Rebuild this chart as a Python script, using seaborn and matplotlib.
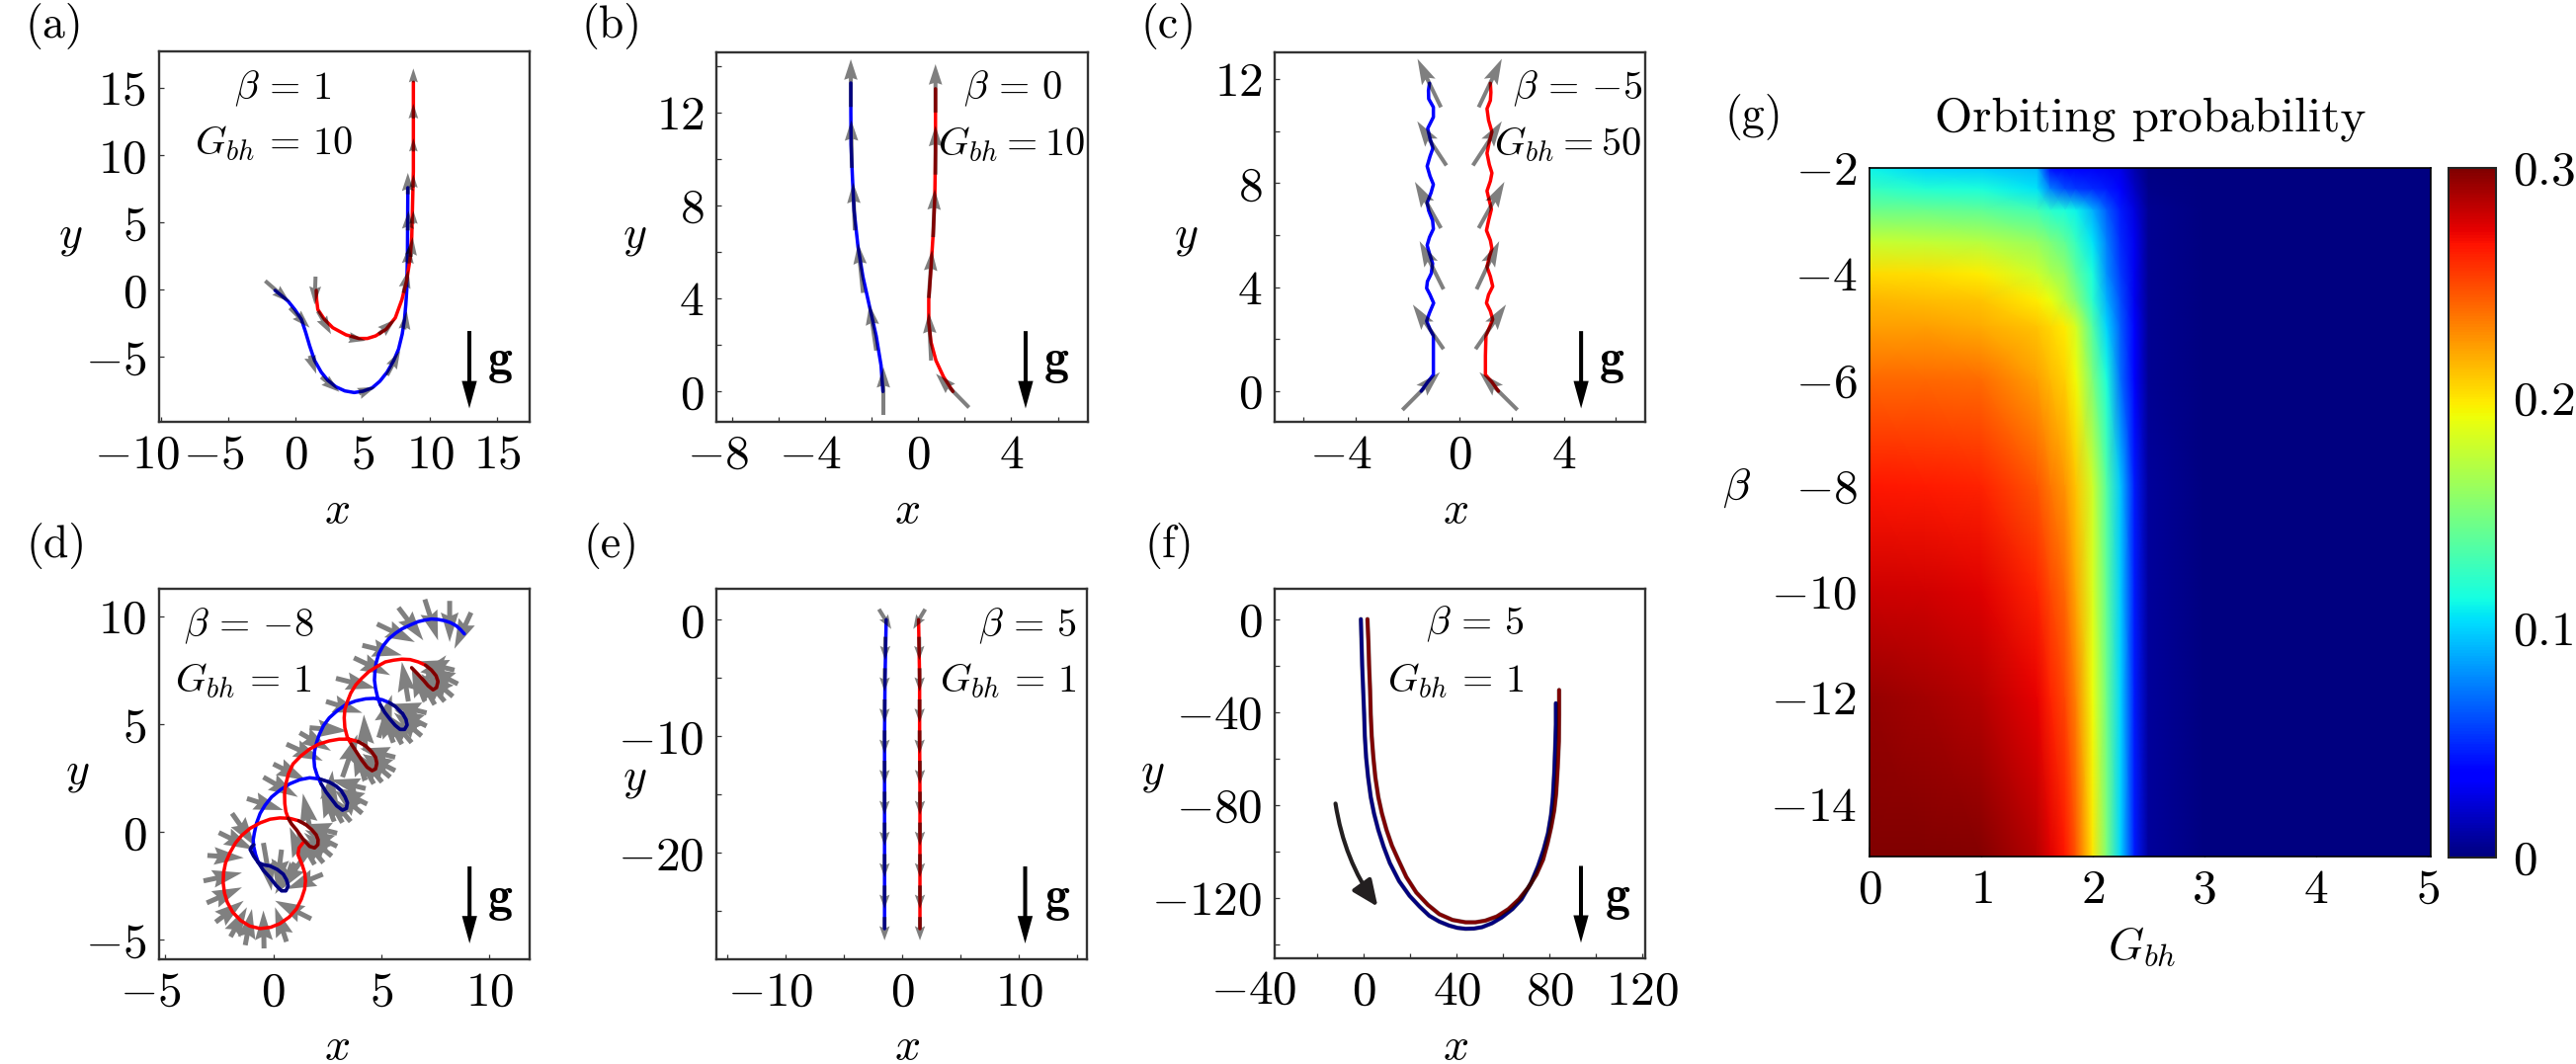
import matplotlib
matplotlib.use("Agg")
import matplotlib.pyplot as plt
import numpy as np
import seaborn as sns
from matplotlib.patches import FancyArrowPatch
from matplotlib.transforms import ScaledTranslation

# ---- panel (a)
a_blue_x = [-1.52,-1.03,-0.54,-0.05,0.44,0.76,1.05,1.42,1.91,2.40,3.01,3.67,4.36,5.02,5.70,6.27,6.81,7.30,7.66,7.93,8.10,8.20,8.27,8.32,8.35]
a_blue_y = [-0.05,-0.44,-0.86,-1.47,-2.20,-3.18,-4.16,-5.26,-6.12,-6.73,-7.22,-7.52,-7.64,-7.54,-7.29,-6.80,-6.12,-5.26,-4.41,-3.30,-2.20,-1.10,0.0,2.69,7.59]
a_red_x = [1.54,1.57,1.66,2.15,2.77,3.75,4.72,5.34,5.95,6.73,7.42,7.91,8.27,8.52,8.64,8.76,8.76]
a_red_y = [-0.05,-0.73,-1.47,-2.20,-2.82,-3.35,-3.62,-3.62,-3.43,-2.94,-2.08,-0.73,0.73,2.33,3.92,8.81,15.42]
a_tail_x = [-2.25,-0.42,1.05,1.91,4.72,6.81,8.10,8.35,8.35,8.35, 1.49,1.66,3.99,6.19,8.03,8.57,8.76,8.76,8.76,8.76,8.76]
a_tail_y = [0.66,-1.35,-4.90,-6.49,-7.71,-6.36,-2.94,1.96,4.41,7.10, 0.98,-1.59,-3.55,-3.30,-0.24,2.45,4.90,7.59,10.28,12.73,15.42]
a_tip_x = [-0.42,1.05,1.54,3.26,5.95,7.78,8.27,8.45,8.40,8.35, 1.42,2.64,5.21,7.42,8.40,8.71,8.76,8.76,8.76,8.76,8.76]
a_tip_y = [-0.93,-2.82,-6.24,-7.59,-7.22,-4.53,-1.59,3.30,5.88,8.69, -1.10,-3.30,-3.79,-2.20,1.47,3.92,5.88,8.57,11.26,13.83,16.45]

# ---- panel (b)
b_blue_x = [-1.52,-1.60,-1.81,-2.10,-2.38,-2.59,-2.76,-2.83,-2.89,-2.90,-2.90]
b_blue_y = [0,1.12,2.39,3.67,4.94,6.22,7.78,9.19,10.61,12.03,13.27]
b_red_x = [1.49,1.09,0.76,0.55,0.45,0.45,0.55,0.64,0.71,0.74,0.74,0.74]
b_red_y = [0,0.62,1.33,2.11,2.96,3.95,5.37,6.78,8.34,10.33,12.03,13.02]
b_tail_x = [-1.50,-1.81,-2.38,-2.73,-2.86,-2.90, 2.18,0.55,0.45,0.64,0.74,0.74]
b_tail_y = [-1.01,1.76,4.24,6.93,9.62,12.24, -0.69,1.33,4.02,6.64,9.33,12.0]
b_tip_x = [-1.50,-2.10,-2.59,-2.80,-2.88,-2.90, 0.76,0.45,0.59,0.71,0.74,0.74]
b_tip_y = [1.05,3.74,6.36,8.98,11.67,14.29, 0.76,3.39,6.08,8.70,11.43,14.08]

# ---- panel (c)
c_blue_x = [-1.48,-1.23,-1.01,-1.01,-1.01,-1.14,-1.27,-1.16,-1.00,-1.14,-1.27,-1.24,-1.09,-1.04,-1.16,-1.25,-1.16,-1.01,-1.04,-1.19,-1.25,-1.10,-1.01,-1.14,-1.25,-1.14,-1.03,-1.14,-1.23,-1.01,-1.01,-1.19,-1.20,-1.16]
c_blue_y = [0,0.35,0.63,1.37,2.13,2.38,2.70,3.01,3.39,3.71,3.96,4.22,4.53,4.91,5.29,5.61,5.92,6.24,6.56,6.94,7.25,7.63,7.95,8.27,8.65,9.03,9.34,9.72,10.10,10.54,10.92,11.24,11.56,11.84]
c_red_x = [1.49,1.24,0.99,0.99,1.01,1.14,1.27,1.18,1.03,1.11,1.27,1.18,1.05,1.14,1.24,1.18,1.03,1.11,1.22,1.14,1.05,1.18,1.24,1.14,1.05,1.14,1.24,1.11,1.05,1.18,1.20,1.18]
c_red_y = [0,0.35,0.63,1.37,2.13,2.44,2.76,3.08,3.39,3.71,4.03,4.41,4.78,5.16,5.48,5.80,6.18,6.56,7.0,7.32,7.70,8.08,8.39,8.71,9.15,9.59,9.97,10.42,10.86,11.18,11.49,11.84]
c_tail_x = [-2.20,-0.62,-0.62,-0.72,-0.51,-0.72, 2.22,0.61,0.65,0.73,0.51,0.73]
c_tail_y = [-0.72,1.62,3.92,6.27,8.68,10.92, -0.72,1.62,3.92,6.27,8.68,10.92]
c_tip_x = [-0.76,-1.80,-1.54,-1.72,-1.63,-1.62, 0.76,1.78,1.52,1.72,1.62,1.62]
c_tip_y = [0.73,3.33,5.77,8.05,10.38,12.78, 0.73,3.33,5.77,8.05,10.38,12.78]

# ---- panel (d)
d_blue_x = [8.84,8.66,8.46,8.20,7.93,7.62,7.32,7.01,6.71,6.33,5.95,5.64,5.34,5.08,4.88,4.76,4.70,4.68,4.73,4.82,4.95,5.15,5.41,5.64,5.87,6.07,6.19,6.14,5.98,5.64,5.37,5.03,4.65,4.27,3.81,3.35,2.96,2.59,2.33,2.13,2.0,1.91,1.88,1.91,2.03,2.21,2.44,2.67,2.93,3.20,3.38,3.43,3.32,3.13,2.90,2.59,2.16,1.68,1.22,0.76,0.34,-0.08,-0.38,-0.61,-0.78,-0.88,-0.93,-0.91,-0.82,-0.69,-0.46,-0.15,0.12,0.38,0.58,0.69,0.61,0.46,0.18,-0.15,-0.46,-0.69,-0.91,-1.07,-0.99,-0.91]
d_blue_y = [9.19,9.39,9.57,9.71,9.80,9.86,9.88,9.83,9.76,9.60,9.42,9.21,8.96,8.64,8.27,7.86,7.44,7.04,6.67,6.27,5.91,5.56,5.22,4.95,4.76,4.76,4.96,5.22,5.50,5.83,6.0,6.14,6.20,6.18,6.08,5.91,5.63,5.30,4.95,4.53,4.15,3.77,3.39,3.01,2.63,2.24,1.86,1.56,1.22,1.02,1.10,1.36,1.63,1.94,2.14,2.32,2.46,2.52,2.43,2.24,1.97,1.63,1.25,0.87,0.41,-0.05,-0.35,-0.66,-1.04,-1.42,-1.77,-2.11,-2.46,-2.72,-2.72,-2.49,-2.21,-1.95,-1.73,-1.57,-1.51,-1.42,-1.11,-0.81,-0.66,-0.58]
d_red_x = [6.40,6.68,6.94,7.16,7.39,7.55,7.62,7.53,7.32,7.04,6.71,6.33,5.95,5.56,5.18,4.80,4.42,4.09,3.81,3.58,3.43,3.31,3.28,3.31,3.43,3.61,3.81,4.09,4.34,4.57,4.73,4.79,4.73,4.54,4.27,3.92,3.51,3.05,2.59,2.10,1.68,1.27,0.91,0.70,0.58,0.52,0.53,0.58,0.69,0.85,1.07,1.37,1.68,1.91,2.06,2.07,1.98,1.78,1.52,1.17,0.76,0.30,-0.15,-0.61,-1.07,-1.45,-1.75,-2.01,-2.21,-2.30,-2.32,-2.26,-2.13,-1.88,-1.52,-1.10,-0.61,-0.12,0.30,0.73,1.07,1.30,1.45,1.49,1.45,1.33,1.14,1.19,1.37]
d_red_y = [7.62,7.33,7.05,6.79,6.60,6.70,6.98,7.25,7.51,7.74,7.89,8.0,8.02,7.97,7.89,7.68,7.44,7.13,6.82,6.44,6.06,5.68,5.30,4.84,4.38,4.08,3.77,3.34,3.01,2.85,2.93,3.19,3.47,3.74,4.0,4.20,4.31,4.31,4.23,4.08,3.85,3.53,3.16,2.70,2.24,1.79,1.33,0.95,0.64,0.37,0.11,-0.32,-0.66,-0.73,-0.58,-0.35,-0.12,0.11,0.34,0.53,0.64,0.66,0.60,0.43,0.18,-0.14,-0.50,-0.96,-1.42,-1.88,-2.34,-2.82,-3.25,-3.71,-4.09,-4.35,-4.47,-4.41,-4.24,-3.94,-3.56,-3.10,-2.64,-2.26,-1.88,-1.50,-1.04,-0.73,-0.50]
d_blue_dark = [(20, 31), (45, 57), (69, 86)]
d_red_dark = [(0, 10), (25, 36), (48, 60)]
d_tail_x = [-3.05,-3.23,-3.08,-2.67,-1.98,-1.30,-0.43,0.61,1.75,2.29,-2.52,-1.91,1.45,0.99,0.38,-0.46,
            2.95,2.95,2.70,2.32,1.91,1.37, 4.27,4.34,4.11,3.58,3.20,2.82, 5.64,5.64,5.41,5.03,4.65,4.27,
            7.09,7.09,6.86,6.40,5.95,5.56, 8.38,8.54,8.31,7.93,7.47,7.01,
            9.15,8.16,7.01,5.79,4.80,4.12,3.73,2.90,2.44,1.68,1.22,0.61,0.0,-0.46,-1.22,
            1.68,3.20,4.88,6.25,6.71,4.27,2.52]
d_tail_y = [-1.08,-2.26,-3.28,-4.17,-4.85,-5.24,-5.39,-5.08,-4.02,-1.95,-0.02,0.87,-1.11,-1.42,-0.81,-0.50,
            -0.05,-0.66,-1.11,-1.42,-1.50,-1.34, 2.02,1.30,0.87,0.49,0.44,0.49, 3.47,2.85,2.55,2.32,2.24,2.40,
            5.53,4.92,4.46,4.15,4.08,4.15, 7.51,6.87,6.29,6.06,5.91,6.06,
            10.18,10.72,10.79,10.41,9.65,8.66,8.08,7.13,6.06,4.84,4.61,4.08,3.16,2.55,1.56,
            0.26,2.55,4.38,6.06,6.67,3.77,1.02]
d_tip_x = [-1.37,-1.45,-1.45,-1.37,-1.22,-0.99,-0.46,0.08,0.08,0.61,-0.91,-0.84,0.30,0.08,0.15,-0.08,
           1.32,1.46,1.42,1.24,1.07,0.76, 2.64,2.85,2.83,2.50,2.36,2.21, 4.01,4.15,4.13,3.95,3.81,3.66,
           5.46,5.60,5.58,5.32,5.11,4.95, 6.75,7.05,7.03,6.85,6.63,6.40,
           8.38,8.16,7.62,6.94,6.55,5.95,5.41,4.73,4.12,3.43,2.67,2.29,1.52,1.14,0.46,
           1.37,3.89,5.49,5.95,8.0,4.19,2.74]
d_tip_y = [-1.19,-1.88,-2.56,-3.18,-3.48,-3.56,-3.63,-3.48,-3.18,-2.64,-0.81,-0.66,-2.72,-2.87,-2.64,-2.72,
           0.36,0.10,-0.03,-0.14,-0.03,0.23, 2.43,2.06,1.95,1.77,1.91,2.06, 3.88,3.61,3.63,3.60,3.71,3.97,
           5.94,5.68,5.54,5.43,5.55,5.72, 7.92,7.63,7.37,7.34,7.38,7.63,
           8.50,8.81,8.89,8.89,8.81,8.20,7.28,6.67,5.53,4.69,3.77,3.31,2.40,1.63,1.02,
           1.79,4.53,6.37,7.89,8.2,5.45,2.85]

# ---- panel (e)
e_blue_x = [-1.36,-1.46,-1.50,-1.50,-1.50,-1.50]
e_red_x = [1.41,1.50,1.50,1.53,1.53,1.53]
e_line_y = [0,-5,-10,-15,-20,-26.5]
e_tail_x = [-1.98,-1.44,-1.48,-1.50,-1.50,-1.50,-1.50,-1.50,-1.50,-1.50,-1.50,
            1.98,1.46,1.50,1.50,1.50,1.53,1.53,1.53,1.53,1.53,1.53]
e_tip_x = [-0.93,-1.46,-1.50,-1.50,-1.50,-1.50,-1.50,-1.50,-1.50,-1.50,-1.50,
           0.96,1.48,1.50,1.50,1.50,1.53,1.53,1.53,1.53,1.53,1.53]
e_tail_y = [0.9,-1.47,-4.16,-6.84,-9.5,-12.1,-14.75,-17.4,-20.1,-22.8,-25.5]*2
e_tip_y = [-0.8,-3.47,-6.16,-8.84,-11.5,-14.1,-16.75,-19.4,-22.1,-24.8,-27.5]*2

# ---- panel (f)
f_blue_x = [-1.28,-0.99,-0.71,-0.28,0.14,0.43,0.99,1.84,2.98,4.40,6.24,8.51,11.2,15.2,19.7,24.0,28.2,32.5,36.7,40.3,43.8,47.4,50.9,55.2,59.4,64.0,67.9,71.9,75.0,77.4,79.3,80.6,81.4,82.0,82.4,82.7,82.7]
f_blue_y = [0,-9.9,-19.9,-30.5,-41.1,-50.4,-59.6,-68.1,-76.6,-83.7,-90.8,-97.9,-105,-112.8,-119.1,-123.7,-127.7,-130.2,-131.9,-132.9,-133.3,-133.2,-132.6,-130.9,-128.4,-124.8,-120.6,-113.8,-106.4,-99.3,-92.2,-84.4,-76.6,-66,-55.3,-45.4,-36.2]
f_red_x = [1.56,1.98,2.27,2.70,2.98,3.40,4.11,4.96,6.24,7.80,9.79,12.1,14.8,18.3,22.6,27.6,32.5,38.2,43.8,48.1,52.3,57.3,62.3,66.8,70.8,74.3,77.2,79.1,80.7,82.0,82.8,83.5,84.0,84.1,84.1]
f_red_y = [0,-9.9,-19.9,-30.5,-41.1,-50.4,-59.6,-68.1,-76.6,-83.7,-90.8,-97.5,-103.5,-111,-117.7,-123,-127,-129.5,-130.5,-130.5,-129.8,-128,-124.8,-120.6,-115.6,-110,-103.5,-96.5,-89.4,-82.3,-75.2,-63.8,-52.5,-41.1,-30.5]

# ---- panel (g)
g_G = [0,0.5,1,1.5,1.62,1.75,1.85,2,2.125,2.25,2.375,2.5,3,5.03]
g_beta = [-2,-2.4,-2.8,-3.4,-4,-4.5,-5,-6,-8,-10,-12,-15]
g_prob = [
 [.110,.100,.098,.092,.040,.036,.034,.032,.030,.028,.012,.002,0,0],
 [.125,.118,.115,.105,.075,.060,.055,.050,.045,.035,.018,.003,0,0],
 [.145,.143,.140,.130,.120,.115,.110,.090,.065,.045,.025,.005,0,0],
 [.178,.175,.172,.160,.150,.140,.125,.105,.075,.050,.030,.005,0,0],
 [.203,.202,.198,.180,.168,.160,.140,.115,.080,.055,.030,.005,0,0],
 [.215,.213,.210,.197,.190,.172,.155,.120,.090,.060,.030,.005,0,0],
 [.222,.222,.218,.210,.205,.198,.182,.135,.100,.065,.035,.005,0,0],
 [.240,.240,.238,.222,.214,.207,.193,.150,.115,.070,.035,.005,0,0],
 [.265,.264,.262,.245,.235,.225,.210,.180,.135,.095,.045,.008,0,0],
 [.280,.278,.275,.262,.250,.240,.220,.185,.140,.098,.045,.008,0,0],
 [.293,.290,.285,.272,.262,.250,.232,.192,.145,.100,.045,.008,0,0],
 [.300,.300,.298,.285,.275,.265,.245,.200,.150,.100,.045,.008,0,0],
]

sns.set_theme(style="white")
plt.rcParams.update({"font.family": ["cmr10", "DejaVu Serif"], "mathtext.fontset": "cm",
                     "axes.unicode_minus": False, "axes.formatter.use_mathtext": True})

W, H, DPI = 2607, 1077, 100
fig = plt.figure(figsize=(W / DPI, H / DPI), dpi=DPI, facecolor="white")
TICKFS, NOTEFS, LABELFS, PANELFS = 35.5, 29, 33, 33
SPINE = "#333333"


def add_ax(l, r, t, b):
    return fig.add_axes([l / W, 1 - b / H, (r - l) / W, (b - t) / H])


def mlabel(v):
    return f"${v:g}$" if v >= 0 else f"$-{abs(v):g}$"


def style(ax, xlim, ylim, xt, xl, yt, yl, xlab_x=0.5, xlab_y=-0.24, ylab_x=-0.23, ylab_y=0.5, far_shift=15):
    ax.set_xlim(*xlim)
    ax.set_ylim(*ylim)
    for s in ax.spines.values():
        s.set_visible(True)
        s.set_color(SPINE)
        s.set_linewidth(1.7)
    ax.set_xticks(xt, [mlabel(v) if v in xl else "" for v in xt])
    ax.set_yticks(yt, [mlabel(v) if v in yl else "" for v in yt])
    ax.tick_params(axis="both", direction="in", length=3.8, width=0.9, color=SPINE,
                   labelsize=TICKFS, pad=9, labelcolor="black",
                   bottom=True, left=True, top=False, right=False)
    for tick, v in zip(ax.xaxis.get_major_ticks(), xt):
        if v < 0:
            dx = far_shift if v == xt[0] else 15
            tick.label1.set_transform(tick.label1.get_transform()
                                      + ScaledTranslation(-dx / DPI, 0, fig.dpi_scale_trans))
    ax.set_xlabel("$x$", fontsize=LABELFS, color="black", va="center")
    ax.set_ylabel("$y$", fontsize=LABELFS, color="black", rotation=0, va="center", ha="center")
    ax.xaxis.set_label_coords(xlab_x, xlab_y)
    ax.yaxis.set_label_coords(ylab_x, ylab_y)


def curves(ax, bx, by, rx, ry, lw=2.5):
    sns.lineplot(x=bx, y=by, color="#0000ff", sort=False, estimator=None, errorbar=None,
                 linewidth=lw, ax=ax, legend=False, zorder=2)
    sns.lineplot(x=rx, y=ry, color="#ff0000", sort=False, estimator=None, errorbar=None,
                 linewidth=lw, ax=ax, legend=False, zorder=2)


def arrows(ax, tx, ty, hx, hy, headwidth=3.4, headlength=5.2, headaxislength=4.8, width=4,
           color=(0, 0, 0, 0.5), zorder=3):
    tx, ty, hx, hy = map(np.asarray, (tx, ty, hx, hy))
    ax.quiver(tx, ty, hx - tx, hy - ty, angles="xy", scale_units="xy", scale=1,
              units="dots", width=width, headwidth=headwidth, headlength=headlength,
              headaxislength=headaxislength, color=color, linewidth=0, zorder=zorder)


def notes(ax, bt, gt, bx, gx, by=0.90, gy=0.752, tight=False):
    gap = "" if tight else r"\,"
    ax.text(bx, by, rf"$\beta\,=\,{bt}$", transform=ax.transAxes, ha="center", va="center",
            fontsize=NOTEFS, color="black")
    ax.text(gx, gy, rf"$G_{{bh}}{gap}={gap}{gt}$", transform=ax.transAxes, ha="center", va="center",
            fontsize=NOTEFS, color="black")


def gravity(ax, x, tail=0.246, tip=0.037, tx=0.92):
    ax.annotate("", xy=(x, tip), xytext=(x, tail), xycoords="axes fraction",
                arrowprops=dict(width=2.9, headwidth=11, headlength=20, shrink=0,
                                facecolor="black", edgecolor="none", linewidth=0))
    ax.text(tx, 0.16, r"$\mathbf{g}$", transform=ax.transAxes, ha="center", va="center",
            fontsize=36, color="black")


# (a)
ax = add_ax(160.7, 536, 52.3, 427.3)
curves(ax, a_blue_x, a_blue_y, a_red_x, a_red_y)
arrows(ax, a_tail_x, a_tail_y, a_tip_x, a_tip_y, headwidth=3.0, headlength=4.6, headaxislength=4.2)
style(ax, (-10.16, 17.4), (-9.84, 17.7), [-10, -5, 0, 5, 10, 15], [-10, -5, 0, 5, 10, 15],
      [-5, 0, 5, 10, 15], [-5, 0, 5, 10, 15], xlab_x=0.48, ylab_x=-0.237, far_shift=24)
notes(ax, "1", "10", 0.336, 0.311)
gravity(ax, 0.8375)

# (b)
ax = add_ax(725, 1100.7, 52.7, 427.3)
curves(ax, b_blue_x, b_blue_y, b_red_x, b_red_y)
arrows(ax, b_tail_x, b_tail_y, b_tip_x, b_tip_y)
style(ax, (-8.68, 7.28), (-1.32, 14.6), list(range(-8, 7, 2)), [-8, -4, 0, 4],
      list(range(0, 15, 2)), [0, 4, 8, 12], xlab_x=0.514, ylab_x=-0.22)
notes(ax, "0", "10", 0.80, 0.795, tight=True)
gravity(ax, 0.833, tx=0.915)

# (c)
ax = add_ax(1290, 1665, 52.7, 427.3)
curves(ax, c_blue_x, c_blue_y, c_red_x, c_red_y)
arrows(ax, c_tail_x, c_tail_y, c_tip_x, c_tip_y, headwidth=3.8, headlength=6.5, headaxislength=5.6)
style(ax, (-7.11, 7.13), (-1.19, 13.04), list(range(-6, 7, 2)), [-4, 0, 4],
      list(range(0, 13, 2)), [0, 4, 8, 12], xlab_x=0.488, ylab_x=-0.24)
notes(ax, "{-}5", "50", 0.818, 0.79, tight=True)
gravity(ax, 0.827, tx=0.91)

# (d)
ax = add_ax(160.7, 536, 596, 970.7)
curves(ax, d_blue_x, d_blue_y, d_red_x, d_red_y)
arrows(ax, d_tail_x, d_tail_y, d_tip_x, d_tip_y, width=5, headwidth=3.6, headlength=6,
       headaxislength=5.4, color="#808080", zorder=1.5)
for spans, xs, ys in ((d_blue_dark, d_blue_x, d_blue_y), (d_red_dark, d_red_x, d_red_y)):
    for i0, i1 in spans:
        sns.lineplot(x=xs[i0:i1], y=ys[i0:i1], color="black", alpha=0.5, sort=False, estimator=None,
                     errorbar=None, linewidth=2.5, ax=ax, legend=False, zorder=3)
style(ax, (-5.3, 11.86), (-5.88, 11.28), [-5, 0, 5, 10], [-5, 0, 5, 10],
      [-5, 0, 5, 10], [-5, 0, 5, 10], xlab_x=0.48, ylab_x=-0.22)
notes(ax, "{-}8", "1", 0.242, 0.229)
gravity(ax, 0.838, tail=0.25, tip=0.042, tx=0.92)

# (e)
ax = add_ax(725, 1099.7, 596, 970.7)
curves(ax, e_blue_x, e_line_y, e_red_x, e_line_y)
arrows(ax, e_tail_x, e_tail_y, e_tip_x, e_tip_y, headwidth=2.6, headlength=3.6, headaxislength=3.2)
style(ax, (-15.9, 15.8), (-29.1, 2.65), list(range(-15, 16, 5)), [-10, 0, 10],
      list(range(-25, 1, 5)), [-20, -10, 0], xlab_x=0.514, ylab_x=-0.22, ylab_y=0.485)
notes(ax, "5", "1", 0.841, 0.788)
gravity(ax, 0.834, tail=0.25, tip=0.042, tx=0.92)

# (f)
ax = add_ax(1290, 1665.3, 596, 970)
curves(ax, f_blue_x, f_blue_y, f_red_x, f_red_y, lw=2.6)
for xs, ys in ((f_blue_x, f_blue_y), (f_red_x, f_red_y)):
    sns.lineplot(x=xs, y=ys, color="black", alpha=0.5, sort=False, estimator=None, errorbar=None,
                 linewidth=3.2, ax=ax, legend=False, zorder=3)
style(ax, (-38.4, 121.3), (-146, 13.05), list(range(-20, 121, 20)), [0, 40, 80, 120],
      list(range(-140, 1, 20)), [-120, -80, -40, 0], xlab_x=0.488, ylab_x=-0.33)
ax.annotate("$-40$", xy=(-38.4, 0), xycoords=ax.get_xaxis_transform(), xytext=(-15, -8.5),
            textcoords="offset points", ha="center", va="top", fontsize=TICKFS, color="black",
            annotation_clip=False)
notes(ax, "5", "1", 0.54, 0.488, by=0.905)
gravity(ax, 0.826, tail=0.25, tip=0.042, tx=0.925)
ax.add_patch(FancyArrowPatch((-12.2, -79.4), (6.0, -123.8), connectionstyle="arc3,rad=0.12",
                             arrowstyle="-|>,head_width=7,head_length=16", mutation_scale=1,
                             color="#231f20", linewidth=3, shrinkA=0, shrinkB=0, zorder=4))

# (g)
ax = add_ax(1892, 2460, 170, 867)
mesh = ax.pcolormesh(np.array(g_G), np.array(g_beta), np.array(g_prob), shading="gouraud",
                     cmap="jet", vmin=0, vmax=0.3)
ax.set_xlim(0, 5.03)
ax.set_ylim(-15, -2)
ax.set_xticks([0, 1, 2, 3, 4, 5], [mlabel(v) for v in [0, 1, 2, 3, 4, 5]])
ax.set_yticks(list(range(-14, -1, 2)), [mlabel(v) for v in range(-14, -1, 2)])
ax.tick_params(axis="both", direction="in", length=7, width=1, color="#111111", labelsize=TICKFS,
               pad=9, labelcolor="black", bottom=True, left=True, top=False, right=False)
for s in ax.spines.values():
    s.set_visible(True)
    s.set_color("black")
    s.set_linewidth(1.2)
ax.set_xlabel("$G_{bh}$", fontsize=LABELFS, color="black", va="center")
ax.xaxis.set_label_coords(0.485, -0.132)
ax.set_ylabel(r"$\beta$", fontsize=LABELFS, color="black", rotation=0, va="center", ha="center")
ax.yaxis.set_label_coords(-0.237, 0.534)
ax.set_title("Orbiting probability", fontsize=35.5, color="black", y=1.0, pad=27)

cax = add_ax(2478, 2526, 170, 868)
cb = fig.colorbar(mesh, cax=cax)
cb.outline.set_edgecolor("#222222")
cb.outline.set_linewidth(1.5)
cb.set_ticks([0, .05, .1, .15, .2, .25, .3], labels=["$0$", "", "$0.1$", "", "$0.2$", "", "$0.3$"])
cax.tick_params(axis="y", direction="in", length=7, width=1.2, color="black", labelsize=TICKFS,
                pad=12, labelcolor="black", right=True, left=False)

# panel letters
for txt, px, py in [("(a)", 55, 27), ("(b)", 619, 27), ("(c)", 1183, 27),
                    ("(d)", 57, 553), ("(e)", 619, 553), ("(f)", 1183, 553), ("(g)", 1775, 118)]:
    fig.text(px / W, 1 - py / H, txt, ha="center", va="center", fontsize=PANELFS, color="black")

fig.savefig("out.png", dpi=DPI, facecolor="white")
